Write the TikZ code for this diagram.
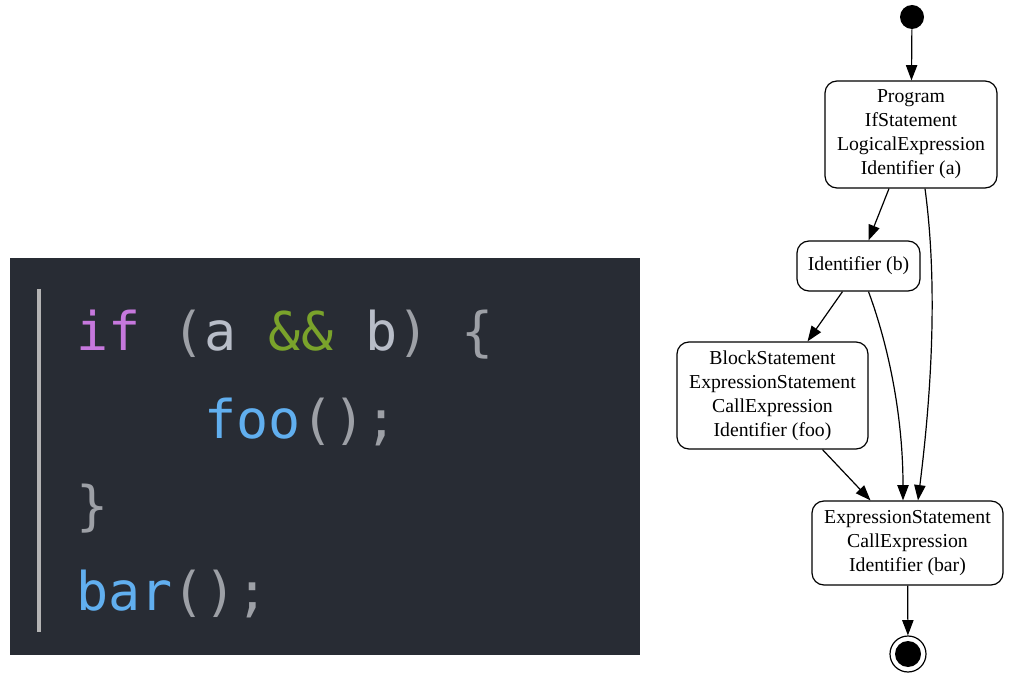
\documentclass[tikz,border=0pt]{standalone}
\usepackage{fontspec}
\setmainfont{Liberation Serif}
\newfontfamily\codefont{DejaVu Sans Mono}
\usetikzlibrary{arrows.meta,calc}
\definecolor{panel}{HTML}{282C34}
\definecolor{kw}{HTML}{C678DD}
\definecolor{fn}{HTML}{61AFEF}
\definecolor{op}{HTML}{7AA32B}
\definecolor{idc}{HTML}{B8BDC8}
\definecolor{pun}{HTML}{9DA0A6}
\definecolor{barc}{HTML}{B4B4B4}
\tikzset{
  codeline/.style={anchor=base west, inner sep=0pt, font=\codefont\fontsize{40}{48}\selectfont},
  state/.style={draw, rounded corners=9pt, line width=0.9pt, align=center, inner sep=2pt,
    font=\fontsize{14.8}{18}\selectfont},
  edge/.style={line width=0.9pt, -{Triangle[length=11.5pt,width=8.5pt]}},
  startdot/.style={circle, fill=black, minimum size=18pt, inner sep=0pt},
  enddot/.style={circle, draw, line width=0.9pt, minimum size=27pt, inner sep=0pt},
  endin/.style={circle, fill=black, minimum size=19.5pt, inner sep=0pt}
}
\begin{document}
\begin{tikzpicture}[x=0.75pt,y=-0.75pt]
\useasboundingbox (0,0) rectangle (1036,684);
% code panel
\fill[panel] (10,258) rectangle (640,655);
\draw[barc, line width=3pt] (39,289) -- (39,632);
\node[codeline] (l1) at (76,351) {\textcolor{kw}{if} \textcolor{pun}{(}\textcolor{idc}{a} \textcolor{op}{\&\&} \textcolor{idc}{b}\textcolor{pun}{)} \textcolor{pun}{\{}};
\node[codeline] (l2) at (76,438) {\phantom{if~~}\textcolor{fn}{foo}\textcolor{pun}{();}};
\node[codeline] (l3) at (76,524) {\textcolor{pun}{\}}};
\node[codeline] (l4) at (76,610) {\textcolor{fn}{bar}\textcolor{pun}{();}};
% diagram
\node[startdot] (start) at (912,17) {};
\node[state, minimum width=129pt, minimum height=80.25pt] (prog) at (911,134.5)
  {Program\\IfStatement\\LogicalExpression\\Identifier (a)};
\node[state, minimum width=92.25pt, minimum height=37.5pt] (idb) at (858.5,266) {Identifier (b)};
\node[state, minimum width=143.25pt, minimum height=80.25pt] (blk) at (772.5,395.5)
  {BlockStatement\\ExpressionStatement\\CallExpression\\Identifier (foo)};
\node[state, minimum width=143.25pt, minimum height=63pt] (bar) at (907.5,543)
  {ExpressionStatement\\CallExpression\\Identifier (bar)};
\node[enddot] (end) at (908,654) {};
\node[endin] (endc) at (end.center) {};
\draw[edge] (start) -- (prog);
\draw[edge] ($(prog.south)+(-22,0)$) -- ($(idb.north)+(10,0)$);
\draw[edge] ($(prog.south)+(14,0)$) .. controls (940,300) and (928,420) .. ($(bar.north)+(10.5,0)$);
\draw[edge] ($(idb.south)+(-16,0)$) -- ($(blk.north)+(35,0)$);
\draw[edge] ($(idb.south)+(10,0)$) .. controls (890,350) and (903,420) .. ($(bar.north)+(-4.5,0)$);
\draw[edge] ($(blk.south)+(50,0)$) -- ($(bar.north)+(-37,0)$);
\draw[edge] (bar) -- (end);
\end{tikzpicture}
\end{document}
